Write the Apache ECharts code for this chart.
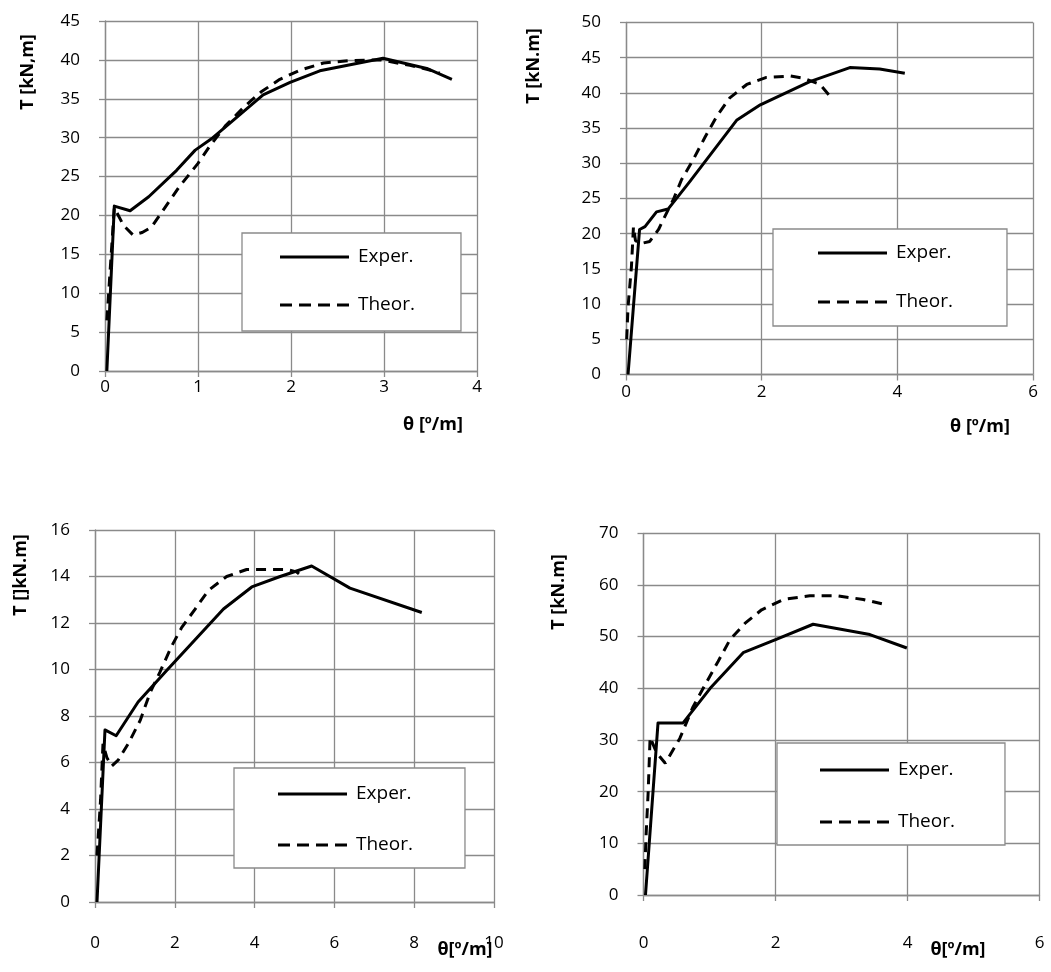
<!DOCTYPE html>
<html>
<head>
<meta charset="utf-8">
<script src="https://cdn.jsdelivr.net/npm/echarts@6/dist/echarts.min.js"></script>
<style>
  html, body { margin: 0; padding: 0; background: #fff; }
  #chart { width: 1051px; height: 972px; }
</style>
</head>
<body>
<div id="chart"></div>
<script>
// Torque T versus twist θ for four specimens: experimental and theoretical curves.
const seriesNames = ['Exper.', 'Theor.'];

const exper1 = [[0.02,0],[0.1,21.2],[0.27,20.6],[0.47,22.4],[0.77,25.8],[0.97,28.4],[1.16,30.0],[1.7,35.5],[1.99,37.1],[2.31,38.6],[2.99,40.2],[3.46,38.9],[3.73,37.5]];
const theor1 = [[0.02,6.5],[0.05,12],[0.1,21],[0.2,18.7],[0.3,17.5],[0.4,17.8],[0.5,18.5],[0.65,21.1],[0.8,23.7],[1.0,26.7],[1.12,28.8],[1.3,31.6],[1.5,34.0],[1.68,35.9],[1.88,37.5],[2.1,38.7],[2.35,39.6],[2.63,39.9],[2.96,40.0],[3.28,39.3],[3.49,38.7],[3.6,38.3]];

const exper2 = [[0.03,0],[0.2,20.6],[0.28,21],[0.45,23.1],[0.62,23.5],[0.94,27.4],[1.63,36.1],[1.98,38.3],[2.71,41.6],[3.3,43.6],[3.74,43.4],[4.11,42.8]];
const theor2 = [[0.01,5],[0.03,9.6],[0.08,15.3],[0.11,21],[0.14,19],[0.22,18.6],[0.35,18.9],[0.48,20.6],[0.55,22],[0.7,24.9],[0.82,27.7],[0.99,30.5],[1.17,33.8],[1.34,36.7],[1.53,39.3],[1.78,41.2],[2.07,42.2],[2.42,42.4],[2.61,42.1],[2.86,41.2],[3.02,39.4]];

const exper3 = [[0.05,0],[0.25,7.4],[0.53,7.15],[1.08,8.6],[1.79,9.95],[3.22,12.6],[3.93,13.55],[4.64,14.0],[5.43,14.45],[6.39,13.5],[8.19,12.45]];
const theor3 = [[0.05,2],[0.14,4.4],[0.2,6.8],[0.3,6.2],[0.42,5.85],[0.58,6.1],[0.83,6.8],[1.13,7.8],[1.38,9.0],[1.63,9.9],[1.92,11.0],[2.17,11.8],[2.51,12.6],[2.84,13.4],[3.3,14.0],[3.8,14.3],[4.47,14.3],[4.8,14.3],[5.05,14.2],[5.22,13.95]];

const exper4 = [[0.03,0],[0.22,33.3],[0.6,33.3],[1.01,40],[1.51,46.9],[2.02,49.5],[2.57,52.4],[3.43,50.4],[3.99,47.8]];
const theor4 = [[0.02,5],[0.04,11.9],[0.07,19.7],[0.1,30.5],[0.2,27.5],[0.33,25.5],[0.55,30.3],[0.75,36.4],[0.96,41.3],[1.13,45.2],[1.31,49.4],[1.54,52.6],[1.79,55.2],[2.12,57.2],[2.52,57.9],[2.93,57.9],[3.33,57.2],[3.63,56.3],[3.68,56.2]];

// Axis ranges: [xMax, xStep, yMax, yStep]
const xMax = [4, 6, 10, 6];
const xStep = [1, 2, 2, 2];
const yMax = [45, 50, 16, 70];
const yStep = [5, 5, 2, 10];

const yTitles = ['T [kN,m]', 'T [kN.m]', 'T []kN.m]', 'T [kN.m]'];
const xTitles = ['θ [º/m]', 'θ [º/m]', 'θ[º/m]', 'θ[º/m]'];

const FONT = '"Open Sans", "Liberation Sans", sans-serif';
const GRID_COLOR = '#8a8a8a';

const grids = [
  { left: 105, top: 21, width: 372, height: 350 },
  { left: 626, top: 22.5, width: 407, height: 352 },
  { left: 95, top: 530, width: 399, height: 372 },
  { left: 643.5, top: 533.3, width: 396, height: 361.7 }
];
const xLabelMargin = [8, 9, 33, 40];

const legends = [
  { left: 242, top: 233, padding: [14, 46, 16, 38], itemGap: 28 },
  { left: 773, top: 229, padding: [14, 54, 14, 45], itemGap: 29 },
  { left: 234, top: 768, padding: [16, 52, 13, 44], itemGap: 31 },
  { left: 777, top: 743, padding: [17, 50, 13, 43], itemGap: 32 }
];

// Legend keys drawn as a solid bar and as four dashes
const solidKey = 'path://M0,0L69,0L69,3L0,3Z';
const dashKey = 'path://M0,0L12,0L12,3L0,3Z M19,0L31,0L31,3L19,3Z M38,0L50,0L50,3L38,3Z M57,0L69,0L69,3L57,3Z';

const yTitlePos = [[28, 72], [534, 66], [21, 575], [559, 592]];
const xTitlePos = [[433, 425], [980, 427], [465, 950], [958, 950]];

const experSets = [exper1, exper2, exper3, exper4];
const theorSets = [theor1, theor2, theor3, theor4];

const xAxes = [], yAxes = [], series = [], graphics = [];
for (let i = 0; i < 4; i++) {
  xAxes.push({
    type: 'value', gridIndex: i, min: 0, max: xMax[i], interval: xStep[i],
    axisLine: { show: true, onZero: false, lineStyle: { color: GRID_COLOR, width: 1.3 } },
    axisTick: { show: true, length: 6, lineStyle: { color: GRID_COLOR, width: 1.3 } },
    axisLabel: { color: '#000', fontSize: 17, fontFamily: FONT, margin: xLabelMargin[i] },
    splitLine: { show: true, lineStyle: { color: GRID_COLOR, width: 1.3 } }
  });
  yAxes.push({
    type: 'value', gridIndex: i, min: 0, max: yMax[i], interval: yStep[i],
    axisLine: { show: true, lineStyle: { color: GRID_COLOR, width: 1.3 } },
    axisTick: { show: true, length: 6, lineStyle: { color: GRID_COLOR, width: 1.3 } },
    axisLabel: { color: '#000', fontSize: 17, fontFamily: FONT, margin: 25 },
    splitLine: { show: true, lineStyle: { color: GRID_COLOR, width: 1.3 } }
  });
  series.push({
    name: seriesNames[0], type: 'line', xAxisIndex: i, yAxisIndex: i,
    data: experSets[i], symbol: 'none', animation: false, z: 3,
    itemStyle: { color: '#000' },
    lineStyle: { color: '#000', width: 3, type: 'solid', join: 'round' }
  });
  series.push({
    name: seriesNames[1], type: 'line', xAxisIndex: i, yAxisIndex: i,
    data: theorSets[i], symbol: 'none', animation: false, z: 3,
    itemStyle: { color: '#000' },
    lineStyle: { color: '#000', width: 3, type: [10, 7] }
  });
  graphics.push({
    type: 'text', x: yTitlePos[i][0], y: yTitlePos[i][1], rotation: Math.PI / 2,
    style: { text: yTitles[i], font: 'bold 18px ' + FONT, fill: '#000', align: 'center', verticalAlign: 'middle' }
  });
  graphics.push({
    type: 'text', x: xTitlePos[i][0], y: xTitlePos[i][1],
    style: { text: xTitles[i], font: 'bold 18px ' + FONT, fill: '#000', align: 'center', verticalAlign: 'middle' }
  });
}

const legendList = legends.map(l => ({
  data: [{ name: seriesNames[0], icon: solidKey }, { name: seriesNames[1], icon: dashKey }],
  orient: 'vertical', left: l.left, top: l.top,
  padding: l.padding, itemGap: l.itemGap, itemWidth: 69, itemHeight: 3,
  backgroundColor: '#fff', borderColor: GRID_COLOR, borderWidth: 1.3,
  selectedMode: false,
  itemStyle: { color: '#000', borderWidth: 0 },
  textStyle: { color: '#000', fontSize: 19, fontFamily: FONT, lineHeight: 20, padding: [0, 0, 0, 4] }
}));

const chart = echarts.init(document.getElementById('chart'), null, { renderer: 'canvas' });
chart.setOption({
  animation: false,
  backgroundColor: '#fff',
  grid: grids.map(g => Object.assign({ containLabel: false }, g)),
  xAxis: xAxes,
  yAxis: yAxes,
  legend: legendList,
  series: series,
  graphic: graphics
});
</script>
</body>
</html>
